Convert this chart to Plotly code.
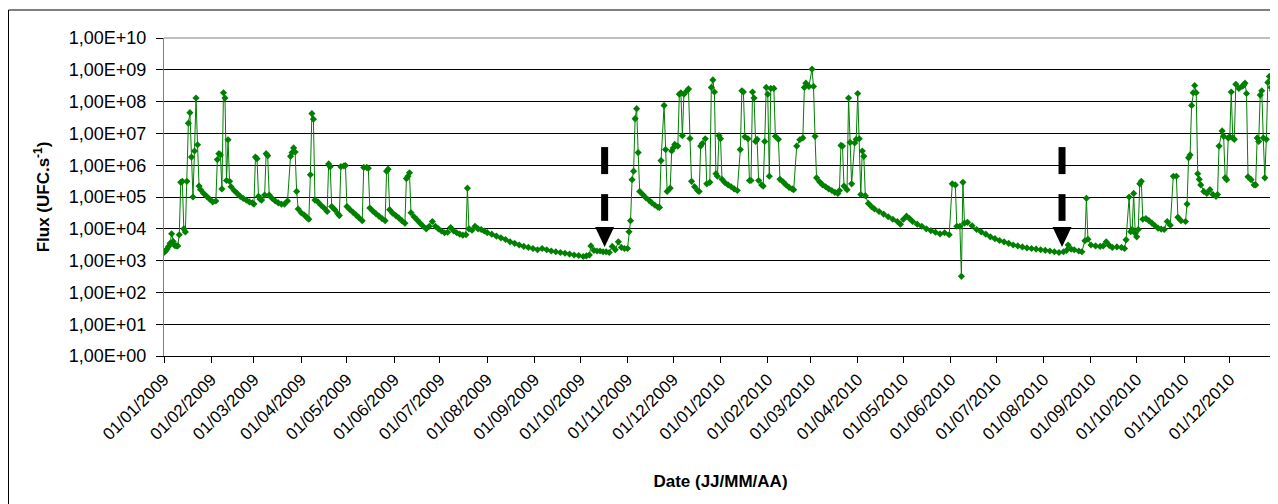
import pandas as pd
import plotly.graph_objects as go

# ---- data (days since 01/01/2009, flux in UFC.s-1) ----
days_2009 = [0, 1, 2, 3, 4, 5, 6, 7, 8, 9, 10, 11, 12, 13, 14, 15, 16, 17, 18, 19, 20, 21, 22, 23, 24, 26, 28, 30, 32, 34,
             35, 36, 37, 38, 39, 40, 41, 42, 43, 44, 46, 48, 50, 52, 54, 56, 58, 59, 60, 61, 62, 63, 64, 66, 67, 68, 69,
             71, 73, 75, 77, 79, 81, 83, 84, 85, 86, 87, 88, 90, 92, 94, 95, 96, 97, 98, 99, 101, 103, 105, 107, 108,
             109, 110, 112, 114, 115, 116, 118, 119, 120, 122, 124, 126, 128, 130, 131, 133, 134, 135, 137, 139, 141,
             143, 145, 146, 147, 148, 150, 152, 154, 156, 158, 159, 160, 161, 162, 164, 166, 168, 170, 172, 174, 176,
             178, 180, 182, 184, 186, 188, 190, 192, 194, 196, 198, 199, 200, 202, 204, 206, 208, 210, 212, 215, 218,
             221, 224, 227, 230, 233, 236, 239, 242, 245, 248, 251, 254, 257, 260, 263, 266, 269, 272, 275, 277, 279,
             280, 282, 284, 286, 288, 290, 292, 294, 296, 298, 300, 302, 304, 305, 306, 307, 308, 309, 310, 311, 312,
             314, 316, 318, 320, 322, 324, 325, 326, 328, 329, 330, 332, 333, 334, 335, 337, 338, 339, 340, 341, 343,
             344, 345, 346, 348, 350, 351, 352, 353, 355, 356, 358, 359, 360, 361, 362, 363, 364]
flux_2009 = [1.8e3, 2.0e3, 2.3e3, 2.8e3, 3.5e3, 7.0e3, 4.0e3, 3.0e3, 2.9e3, 2.9e3, 6.5e3, 2.9e5, 3.1e5, 1.0e4, 8.0e3,
             3.1e5, 2.1e7, 4.5e7, 1.8e6, 1.0e5, 2.8e6, 1.3e8, 4.4e6, 2.2e5, 1.7e5, 1.3e5, 1.05e5, 8.5e4, 7.0e4, 7.5e4,
             1.5e6, 2.3e6, 2.1e6, 1.8e5, 1.9e8, 1.3e8, 3.3e5, 6.3e6, 3.1e5, 2.1e5, 1.6e5, 1.3e5, 1.05e5, 9.0e4, 8.0e4,
             7.0e4, 6.5e4, 6.0e4, 1.8e6, 1.6e6, 1.05e5, 8.5e4, 8.0e4, 1.15e5, 2.3e6, 2.0e6, 1.15e5,
             9.0e4, 7.5e4, 6.5e4, 6.0e4, 6.0e4, 7.5e4, 1.9e6, 2.5e6, 3.5e6, 2.6e6, 1.5e5, 4.2e4, 3.2e4, 2.7e4, 2.2e4,
             2.0e4, 5.0e5, 4.2e7, 2.8e7, 8.0e4, 7.0e4, 5.5e4, 4.5e4, 3.5e4, 1.1e6,
             9.0e5, 5.0e4, 4.0e4, 3.0e4, 2.6e4, 9.0e5, 9.5e5, 9.8e5, 5.0e4, 4.0e4, 3.3e4, 2.7e4, 2.2e4, 1.8e4, 8.5e5,
             8.5e5, 8.0e5, 4.5e4, 3.6e4, 3.0e4, 2.5e4,
             2.1e4, 1.8e4, 6.5e5, 7.5e5, 4.0e4, 3.1e4, 2.6e4, 2.2e4, 1.8e4, 1.5e4, 3.8e5, 4.5e5, 5.8e5, 3.2e4, 2.4e4,
             1.9e4, 1.5e4, 1.2e4, 1.0e4, 1.2e4, 1.7e4,
             1.2e4, 1.0e4, 8.5e3, 7.5e3, 7.8e3, 1.1e4, 8.5e3, 7.5e3, 6.8e3, 6.3e3, 6.5e3, 1.9e5, 1.0e4, 9.0e3, 1.2e4,
             1.0e4, 9.5e3, 8.5e3, 7.6e3, 6.8e3, 5.9e3,
             5.2e3, 4.6e3, 3.9e3, 3.5e3, 3.1e3, 2.8e3, 2.6e3, 2.4e3, 2.2e3, 2.4e3, 2.2e3, 2.0e3, 1.9e3, 1.8e3, 1.7e3,
             1.6e3, 1.5e3, 1.45e3, 1.35e3, 1.4e3, 1.5e3,
             2.9e3, 2.1e3, 2.0e3, 2.0e3, 1.9e3, 1.9e3, 1.8e3, 2.8e3, 2.2e3, 3.9e3, 2.6e3, 2.4e3, 2.4e3, 8.1e3, 1.8e4,
             3.5e5, 6.5e5, 2.9e7, 6.0e7, 2.5e6, 1.5e5,
             1.2e5, 9.5e4, 8.0e4, 6.5e4, 5.5e4, 4.8e4, 4.7e4, 1.4e6, 7.6e7, 3.1e6, 1.5e5, 1.9e5, 2.8e6, 3.5e6, 4.5e6,
             4.0e6, 1.7e8, 1.9e8, 8.5e6, 1.7e8, 2.2e8,
             2.5e8, 6.9e6, 3.1e5, 2.1e5, 1.6e5, 1.5e5, 4.0e6, 4.8e6, 6.8e6, 2.6e5, 2.9e5, 2.8e8, 4.8e8, 2.0e8, 5.4e5,
             4.5e5, 8.5e6]

days_2010 = [365, 366, 368, 370, 372, 374, 376, 378, 379, 380, 381, 383, 384, 385, 386, 387, 388, 389, 390, 392, 393,
             394, 395, 396, 397, 398, 400, 401, 403, 404, 406, 408, 410, 412, 413, 415, 417, 419, 420, 421, 423, 425,
             426, 427, 428, 430, 432, 434, 436, 438, 440, 442, 443, 444, 445, 446, 448, 449, 450, 451, 453, 454, 455,
             456, 457, 458, 459, 460, 462, 464, 466, 469, 472, 475, 478, 481, 483, 485, 487, 489, 491, 494, 497, 500,
             503, 506, 509, 512, 515, 517, 519, 520, 522, 523, 524, 525, 527, 530, 533, 536, 539, 542, 545, 548, 551,
             554, 557, 560, 563, 566, 569, 572, 575, 578, 581, 584, 587, 590, 592, 593, 595, 597, 600, 602, 604, 605,
             606, 608, 611, 614, 616, 618, 620, 622, 625, 628, 630, 631, 633, 634, 635, 636, 637, 638, 639, 640, 641,
             642, 644, 646, 648, 650, 652, 654, 656, 658, 660, 662, 664, 665, 667, 670, 671, 672, 673, 674, 675, 676,
             677, 678, 679, 680, 682, 684, 686, 688, 690, 691, 692, 694, 695, 696, 697, 698, 699, 700, 701, 702, 703,
             705, 707, 708, 709, 710, 711, 713, 715, 716, 717, 718, 719, 720, 721, 722, 723, 724, 725, 726, 727, 728,
             729, 730]
flux_2010 = [6.8e6, 3.6e5, 2.8e5, 2.4e5, 2.1e5, 1.8e5, 1.6e5, 3.1e6, 2.2e8, 2.0e8, 7.8e6, 6.8e6, 3.3e5, 3.3e5, 2.0e8,
             1.3e8, 5.6e6, 6.5e6, 3.3e5, 2.4e5, 2.2e5,
             5.6e6, 2.8e8, 1.7e8, 4.5e5, 2.6e8, 2.6e8, 8.1e6, 6.5e6, 3.6e5, 3.0e5, 2.4e5, 2.0e5, 1.8e5, 1.7e5, 4.0e6,
             6.3e6, 7.2e6, 2.8e8, 3.8e8, 3.0e8, 1.05e9,
             3.0e8, 8.1e6, 4.0e5, 3.0e5, 2.4e5, 2.1e5, 1.8e5, 1.6e5, 1.4e5, 1.3e5, 1.6e5, 4.2e6, 4.0e6, 2.2e5, 1.7e5,
             1.3e8, 5.2e6, 2.6e5, 5.0e6, 6.5e6, 1.8e8,
             6.8e6, 1.2e5, 2.8e6, 1.9e6, 1.1e5, 6.3e4, 5.0e4, 4.2e4, 3.5e4, 2.9e4, 2.4e4, 2.0e4, 1.7e4, 1.4e4, 2.0e4,
             2.5e4, 2.1e4, 1.7e4, 1.4e4, 1.2e4, 1.0e4,
             8.8e3, 7.8e3, 6.9e3, 7.5e3, 6.5e3, 2.6e5, 2.4e5, 1.2e4, 1.2e4, 3.2e2, 2.9e5, 1.5e4, 1.6e4, 1.25e4, 9.5e3,
             8.0e3, 6.8e3, 5.6e3, 4.9e3, 4.3e3, 3.9e3,
             3.5e3, 3.1e3, 2.9e3, 2.7e3, 2.5e3, 2.4e3, 2.3e3, 2.2e3, 2.1e3, 2.0e3, 1.9e3, 1.8e3, 1.9e3, 2.1e3, 3.1e3,
             2.3e3, 2.2e3, 2.0e3, 1.9e3, 4.2e3, 9.1e4,
             4.7e3, 3.1e3, 2.9e3, 2.8e3, 2.9e3, 3.9e3, 3.0e3, 2.6e3, 2.7e3, 2.6e3, 2.4e3, 4.5e3, 1.0e5, 8.1e3, 9.5e3,
             1.3e5, 7.2e3, 5.6e3, 9.5e3, 2.6e5, 3.1e5,
             2.0e4, 2.1e4, 1.8e4, 1.5e4, 1.25e4, 1.05e4, 9.8e3, 9.5e3, 1.7e4, 1.3e4, 4.5e5, 4.5e5, 2.3e4, 1.8e4, 1.7e4,
             6.0e4, 1.7e6, 2.1e6, 7.6e7, 1.9e8, 3.2e8,
             1.9e8, 5.4e5, 3.6e5, 2.4e5, 1.5e5, 1.3e5, 1.7e5, 1.2e5, 1.05e5, 1.2e5, 4.0e6, 1.2e7, 8.1e6, 4.0e5, 3.5e5,
             7.2e6, 7.8e6, 2.0e8, 7.2e6, 6.5e6, 3.5e8,
             2.6e8, 3.0e8, 3.2e8, 3.8e8, 1.8e8, 4.3e5, 3.5e5, 2.4e5, 2.4e5, 7.2e6, 5.6e6, 1.6e8, 2.2e8, 7.2e6, 4.0e5,
             6.5e6, 4.0e8, 6.2e8, 2.8e8, 2.2e8, 1.0e7,
             8.1e6, 1.7e8]

start_date = "2009-01-01"
end_date = "2011-01-01"
month_ticks = pd.date_range("2009-01-01", "2010-12-01", freq="MS")
tick_labels = [d.strftime("%d/%m/%Y") for d in month_ticks]
y_tickvals = [10 ** k for k in range(0, 11)]
y_ticktext = ["1,00E+%02d" % k for k in range(0, 11)]
arrow_dates = ["2009-10-17", "2010-08-13"]

# ---- build ----
t0 = pd.Timestamp(start_date)
dates = [t0 + pd.Timedelta(days=d) for d in days_2009 + days_2010]
flux = flux_2009 + flux_2010

GREEN = "#008000"
FONT = "Liberation Sans, Arial, sans-serif"

# the page body has an 8px margin: figure is sized to fill the rest of the window
FIG_W, FIG_H = 1270, 496
ML, MR, MT, MB = 156, 1, 30, 148
PW = FIG_W - ML - MR
PH = FIG_H - MT - MB

fig = go.Figure()
fig.add_trace(go.Scatter(
    x=dates, y=flux, mode="lines+markers",
    line=dict(color=GREEN, width=1),
    marker=dict(symbol="diamond", size=5.5, color=GREEN),
    showlegend=False, hoverinfo="x+y"))

span = (pd.Timestamp(end_date) - t0).total_seconds()
shapes = []
for ad in arrow_dates:
    xf = (pd.Timestamp(ad) - t0).total_seconds() / span
    for y0, y1 in [(0.572, 0.657), (0.425, 0.509)]:
        shapes.append(dict(type="line", xref="paper", yref="paper", x0=xf, x1=xf, y0=y0, y1=y1,
                           line=dict(color="black", width=7)))
    hw = 9.5 / PW
    shapes.append(dict(type="path", xref="paper", yref="paper",
                       path=f"M {xf-hw},0.406 L {xf+hw},0.406 L {xf},0.343 Z",
                       fillcolor="black", line=dict(color="black", width=0)))
# plot-area top border (gray) and chart outer frame (black)
shapes.append(dict(type="line", xref="paper", yref="paper", x0=0, x1=1, y0=1, y1=1,
                   line=dict(color="#808080", width=1)))
shapes.append(dict(type="rect", xref="paper", yref="paper", x0=(0.5 - ML) / PW, x1=1.2,
                   y0=-1.0, y1=1 + 28 / PH,
                   line=dict(color="black", width=1), fillcolor="rgba(0,0,0,0)"))

fig.update_layout(
    width=FIG_W, height=FIG_H,
    margin=dict(l=ML, r=MR, t=MT, b=MB),
    paper_bgcolor="white", plot_bgcolor="white",
    font=dict(family=FONT, color="black", size=17),
    shapes=shapes,
    xaxis=dict(type="date", range=[start_date, end_date],
               tickvals=list(month_ticks), ticktext=tick_labels, tickangle=-45,
               tickfont=dict(size=17, family=FONT),
               ticks="outside", ticklen=6, tickcolor="black",
               showgrid=False, showline=True, linecolor="black", linewidth=1, mirror=False,
               title=dict(text="<b>Date (JJ/MM/AA)</b>", font=dict(size=17, family=FONT), standoff=32),
               zeroline=False),
    yaxis=dict(type="log", range=[0, 10], tickvals=y_tickvals, ticktext=y_ticktext,
               tickfont=dict(size=18, family=FONT),
               ticks="outside", ticklen=7, tickcolor="black", ticklabelstandoff=6,
               showgrid=True, gridcolor="black", gridwidth=1,
               showline=True, linecolor="#808080", linewidth=1, mirror=True,
               title=dict(text="<b>Flux (UFC.s<sup>-1</sup>)</b>", font=dict(size=17, family=FONT), standoff=14),
               zeroline=False),
)

fig.write_html("out.html")
